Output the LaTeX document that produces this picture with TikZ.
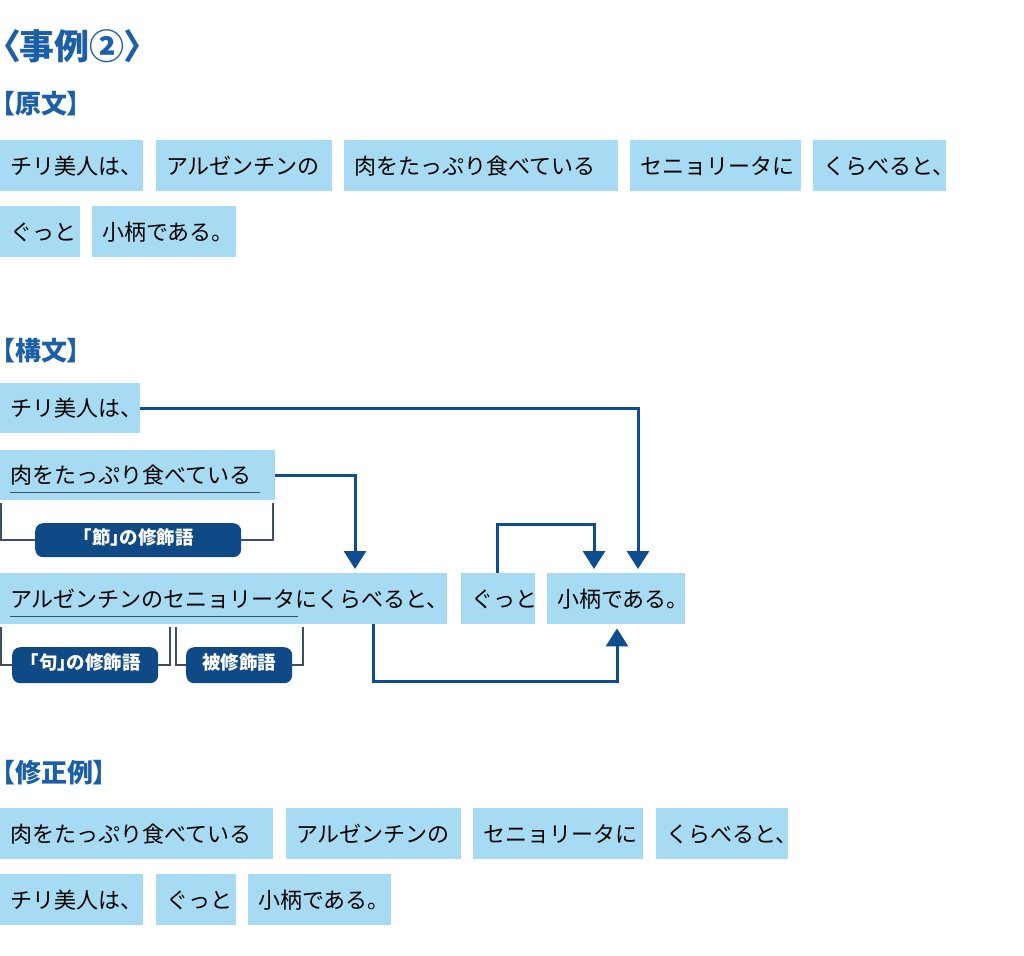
\documentclass[tikz,border=0pt]{standalone}
\usepackage{fontspec}
\usetikzlibrary{arrows.meta,calc}
\newfontfamily\jp{Noto Sans CJK JP}
\newfontfamily\hd[RawFeature=+palt]{Noto Sans CJK JP}
\definecolor{boxblue}{HTML}{A6DBF3}
\definecolor{arrblue}{HTML}{0E4D8F}
\definecolor{pillblue}{HTML}{0F4A86}
\definecolor{ttlblue}{HTML}{1B5FA8}
\definecolor{brkgray}{HTML}{3C4F66}
\newcommand{\bxt}[2]{\makebox[#1pt][l]{\hspace{10pt}\raisebox{-4.5pt}{#2}}}
\tikzset{
  wbox/.style={fill=boxblue, inner sep=0pt, minimum height=51pt, anchor=north west,
    font=\jp\fontsize{22}{22}\selectfont, text height=0.88em, text depth=0.12em},
  hdr/.style={anchor=west, inner sep=0pt, text=ttlblue, font=\hd\bfseries\fontsize{26}{26}\selectfont},
  pill/.style={fill=pillblue, rounded corners=8pt, inner sep=0pt, text=white, anchor=north west,
    font=\hd\bfseries\fontsize{18.5}{18.5}\selectfont, text height=0.88em, text depth=0.12em},
  arr/.style={draw=arrblue, line width=3pt, -{Triangle[width=22pt,length=18pt]}, shorten >=4pt},
  brk/.style={draw=brkgray, line width=1.5pt},
  uline/.style={draw=brkgray, line width=1.3pt}
}
\begin{document}
\begin{tikzpicture}[x=1pt,y=-1pt]
\useasboundingbox (0,0) rectangle (1024,955);
% title
\node[anchor=west, inner sep=0pt, text=ttlblue, font=\hd\bfseries\fontsize{35}{35}\selectfont] (title) at (2,46) {〈事例②〉};
% 原文
\node[hdr] (h1) at (2,104) {【原文】};
\node[wbox] (r1a) at (0,140) {\bxt{143}{チリ美人は、}};
\node[wbox] (r1b) at (156,140) {\bxt{176}{アルゼンチンの}};
\node[wbox] (r1c) at (344,140) {\bxt{274}{肉をたっぷり食べている}};
\node[wbox] (r1d) at (630,140) {\bxt{171}{セニョリータに}};
\node[wbox] (r1e) at (813,140) {\bxt{133}{くらべると、}};
\node[wbox] (r2a) at (0,206) {\bxt{80}{ぐっと}};
\node[wbox] (r2b) at (92,206) {\bxt{144}{小柄である。}};
% 構文
\node[hdr] (h2) at (2,351) {【構文】};
\node[wbox, minimum height=50pt] (s1) at (0,383) {\bxt{140}{チリ美人は、}};
\node[wbox, minimum height=50pt] (s2) at (0,450) {\bxt{275}{肉をたっぷり食べている}};
\node[wbox] (s3) at (0,573) {\bxt{447}{アルゼンチンのセニョリータにくらべると、}};
\node[wbox] (s4) at (461,573) {\bxt{74}{ぐっと}};
\node[wbox] (s5) at (547,573) {\bxt{138}{小柄である。}};
% underlines
\draw[uline] ($(s2.south west)+(10,-8)$) -- ++(250,0);
\draw[uline] ($(s3.south west)+(10,-8)$) -- ++(288,0);
% pills
\node[pill, minimum width=206pt, minimum height=34pt] (p1) at (35,523) {「節」の修飾語};
\node[pill, minimum width=146pt, minimum height=36pt] (p2) at (12,647) {「句」の修飾語};
\node[pill, minimum width=106pt, minimum height=36pt] (p3) at (186,647) {被修飾語};
% brackets
\draw[brk] ($(s2.south west)+(1,3)$) |- (p1.west);
\draw[brk] ($(s2.south west)+(273,3)$) |- (p1.east);
\draw[brk] ($(s3.south west)+(1,3)$) |- (p2.west);
\draw[brk] ($(s3.south west)+(170,3)$) |- (p2.east);
\draw[brk] ($(s3.south west)+(176,3)$) |- (p3.west);
\draw[brk] ($(s3.south west)+(303,3)$) |- (p3.east);
% arrows
\coordinate (c1) at ($(s5.north west)+(91,0)$);
\coordinate (c2) at ($(s3.north west)+(355,0)$);
\coordinate (c3) at ($(s5.north west)+(47,0)$);
\coordinate (c4) at ($(s5.south west)+(70,0)$);
\draw[arr] (s1.east) -| (c1);
\draw[arr] (s2.east) -| (c2);
\draw[arr] ($(s4.north west)+(36,0)$) -- ++(0,-49) -| (c3);
\draw[arr] ($(s3.south west)+(373,0)$) -- ++(0,57) -| (c4);
% 修正例
\node[hdr] (h3) at (2,773) {【修正例】};
\node[wbox] (t1) at (0,808) {\bxt{273}{肉をたっぷり食べている}};
\node[wbox] (t2) at (286,808) {\bxt{175}{アルゼンチンの}};
\node[wbox] (t3) at (473,808) {\bxt{170}{セニョリータに}};
\node[wbox] (t4) at (656,808) {\bxt{132}{くらべると、}};
\node[wbox] (t5) at (0,874) {\bxt{143}{チリ美人は、}};
\node[wbox] (t6) at (156,874) {\bxt{80}{ぐっと}};
\node[wbox] (t7) at (248,874) {\bxt{143}{小柄である。}};
\end{tikzpicture}
\end{document}
